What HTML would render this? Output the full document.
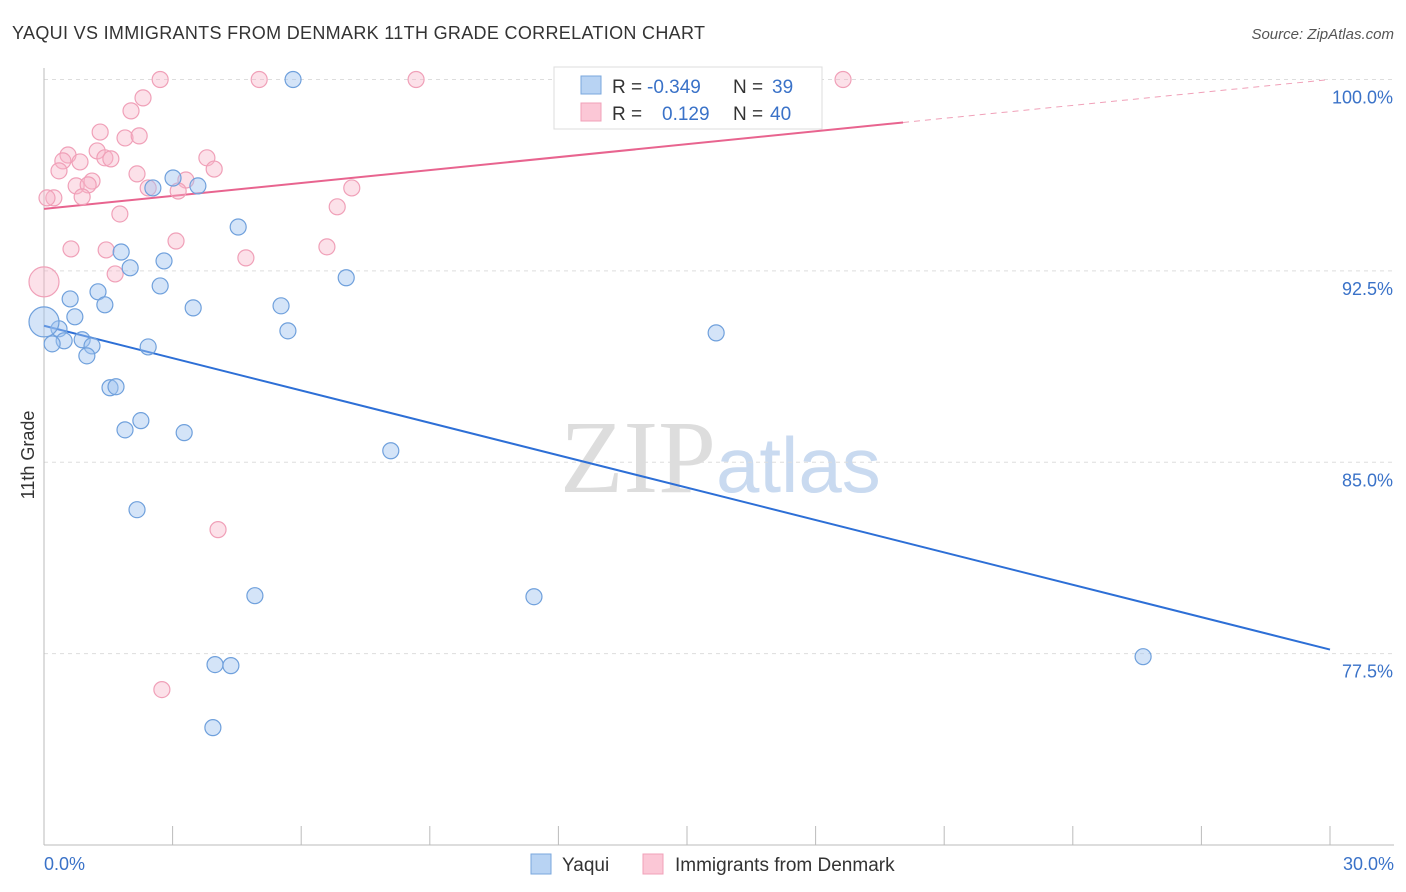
<!DOCTYPE html>
<html><head><meta charset="utf-8"><style>
body{margin:0;background:#fff;font-family:"Liberation Sans",sans-serif;}
svg{display:block}
</style></head><body>
<svg id="chart" width="1406" height="892" xmlns="http://www.w3.org/2000/svg">
<text x="12" y="39" font-size="18" fill="#333" textLength="693" lengthAdjust="spacing">YAQUI VS IMMIGRANTS FROM DENMARK 11TH GRADE CORRELATION CHART</text>
<text x="1394" y="39" font-size="15" fill="#555" font-style="italic" text-anchor="end">Source: ZipAtlas.com</text>
<text x="716" y="492" font-size="104" fill="#ddd" text-anchor="end" font-family="Liberation Serif,serif">ZIP</text>
<text x="716" y="492" font-size="78" fill="#c9daf0">atlas</text>
<g id="grid"></g>
<g id="axes"></g>
<g id="lines"></g>
<g id="pts"></g>
<text transform="translate(34,455) rotate(-90)" font-size="18" fill="#333" text-anchor="middle">11th Grade</text>
<g>
<rect x="554" y="67" width="268" height="62" fill="#fff" stroke="#ddd"/>
<rect x="581" y="76" width="20" height="18" fill="#b8d3f3" stroke="#7aa7dd"/>
<rect x="581" y="103" width="20" height="18" fill="#fbc7d6" stroke="#f0a0b8"/>
<text x="612" y="93" font-size="19" fill="#333">R = <tspan x="647" fill="#3a72c8">-0.349</tspan><tspan x="733">N = </tspan><tspan x="772" fill="#3a72c8">39</tspan></text>
<text x="612" y="120" font-size="19" fill="#333">R = <tspan x="662" fill="#3a72c8">0.129</tspan><tspan x="733">N = </tspan><tspan x="770" fill="#3a72c8">40</tspan></text>
</g>
<g>
<rect x="531" y="854" width="20" height="20" fill="#b8d3f3" stroke="#7aa7dd"/>
<text x="562" y="871" font-size="19" fill="#333">Yaqui</text>
<rect x="643" y="854" width="20" height="20" fill="#fbc7d6" stroke="#f0a0b8"/>
<text x="675" y="871" font-size="19" fill="#333">Immigrants from Denmark</text>
</g>
</svg>
<script>
const blueX=[5.81,3.01,3.59,2.54,4.53,1.80,2.80,2.01,7.05,2.71,1.26,0.61,1.42,3.48,5.53,0.72,0.35,5.69,15.68,0.89,0.47,0.19,1.12,2.43,1.00,1.54,1.68,2.26,1.89,3.27,8.09,2.17,4.92,11.43,3.99,4.36,25.64,3.94,0];
const blueY=[100.0,96.14,95.83,95.75,94.22,93.24,92.89,92.62,92.23,91.91,91.68,91.40,91.17,91.05,91.13,90.70,90.23,90.15,90.07,89.80,89.76,89.64,89.56,89.52,89.17,87.92,87.96,86.63,86.27,86.16,85.45,83.14,79.77,79.73,77.07,77.03,77.38,74.60,90.50];
const pinkX=[2.71,5.02,8.68,18.64,2.31,2.03,1.31,1.89,2.22,1.24,0.56,1.42,1.56,0.84,0.44,3.80,0.35,3.97,2.17,3.31,1.12,0.75,1.03,2.43,3.13,7.18,0.89,0.23,0.07,6.84,1.77,3.08,0.63,1.45,6.60,4.71,1.66,0,4.06,2.75];
const pinkY=[100,100,100,100,99.28,98.77,97.94,97.71,97.79,97.20,97.04,96.93,96.89,96.77,96.81,96.93,96.42,96.49,96.30,96.06,96.02,95.83,95.87,95.75,95.63,95.75,95.40,95.36,95.36,95.01,94.73,93.67,93.36,93.32,93.44,93.01,92.38,92.07,82.36,76.09];
const blueBig=[38];
const pinkBig=[37];
const blueLine=[90.35,77.66];
const pinkLine=[94.93,100.0];
const pinkSolidEnd=20.04;
const yTicks=[100,92.5,85,77.5];
const yTickLabels=["100.0%","92.5%","85.0%","77.5%"];
const xTicks=[0,3,6,9,12,15,18,21,24,27,30];
const xLabels=["0.0%","30.0%"];
const NS="http://www.w3.org/2000/svg";
const X=v=>44+v/30*1286;
const Y=v=>79.5+(100-v)/30*765.5;
function mk(tag,attrs,parent){const e=document.createElementNS(NS,tag);for(const k in attrs)e.setAttribute(k,attrs[k]);document.getElementById(parent).appendChild(e);return e;}
yTicks.forEach((t,i)=>{
 const g=mk('line',{x1:44,x2:1394,y1:Y(t),y2:Y(t),stroke:'#ddd','stroke-dasharray':'4,4'},'grid');
 
 
 const l=mk('text',{x:1393,y:Y(t)+24,'font-size':18,fill:'#3a72c8','text-anchor':'end'},'axes');
 l.textContent=yTickLabels[i];
 
 
});
const ax=mk('line',{x1:44,x2:1394,y1:845,y2:845,stroke:'#bbb'},'axes');


const ay=mk('line',{x1:44,x2:44,y1:68,y2:845,stroke:'#bbb'},'axes');


xTicks.forEach(t=>{
 const k=mk('line',{x1:X(t),x2:X(t),y1:826,y2:845,stroke:'#bbb'},'axes');
 
 
});
[[0,'start',xLabels[0]],[30,'end',xLabels[1]]].forEach(a=>{
 const l=mk('text',{x:a[0]==0?44:1394,y:870,'font-size':18,fill:'#3a72c8','text-anchor':a[1]},'axes');
 l.textContent=a[2];
 
 
});
function dots(xs,ys,big,fill,stroke,name){
 xs.forEach((x,i)=>{
  const c=mk('circle',{cx:X(x),cy:Y(ys[i]),r:big.includes(i)?15:8,fill:fill,stroke:stroke,'stroke-width':1.2},'pts');
  
  
 });
}
dots(pinkX,pinkY,pinkBig,'rgba(248,180,200,0.4)','#f0a0b8','point-denmark');
dots(blueX,blueY,blueBig,'rgba(160,196,240,0.45)','#6fa0dc','point-yaqui');
const bl=mk('line',{x1:X(0),y1:Y(blueLine[0]),x2:X(30),y2:Y(blueLine[1]),stroke:'#2d6fd6','stroke-width':2},'lines');


const pAt=x=>pinkLine[0]+(pinkLine[1]-pinkLine[0])*x/30;
const pl=mk('line',{x1:X(0),y1:Y(pAt(0)),x2:X(pinkSolidEnd),y2:Y(pAt(pinkSolidEnd)),stroke:'#e8648f','stroke-width':2},'lines');


const pd=mk('line',{x1:X(pinkSolidEnd),y1:Y(pAt(pinkSolidEnd)),x2:X(30),y2:Y(pAt(30)),stroke:'#f0a0b8','stroke-width':1,'stroke-dasharray':'6,5'},'lines');


</script>
</body></html>
